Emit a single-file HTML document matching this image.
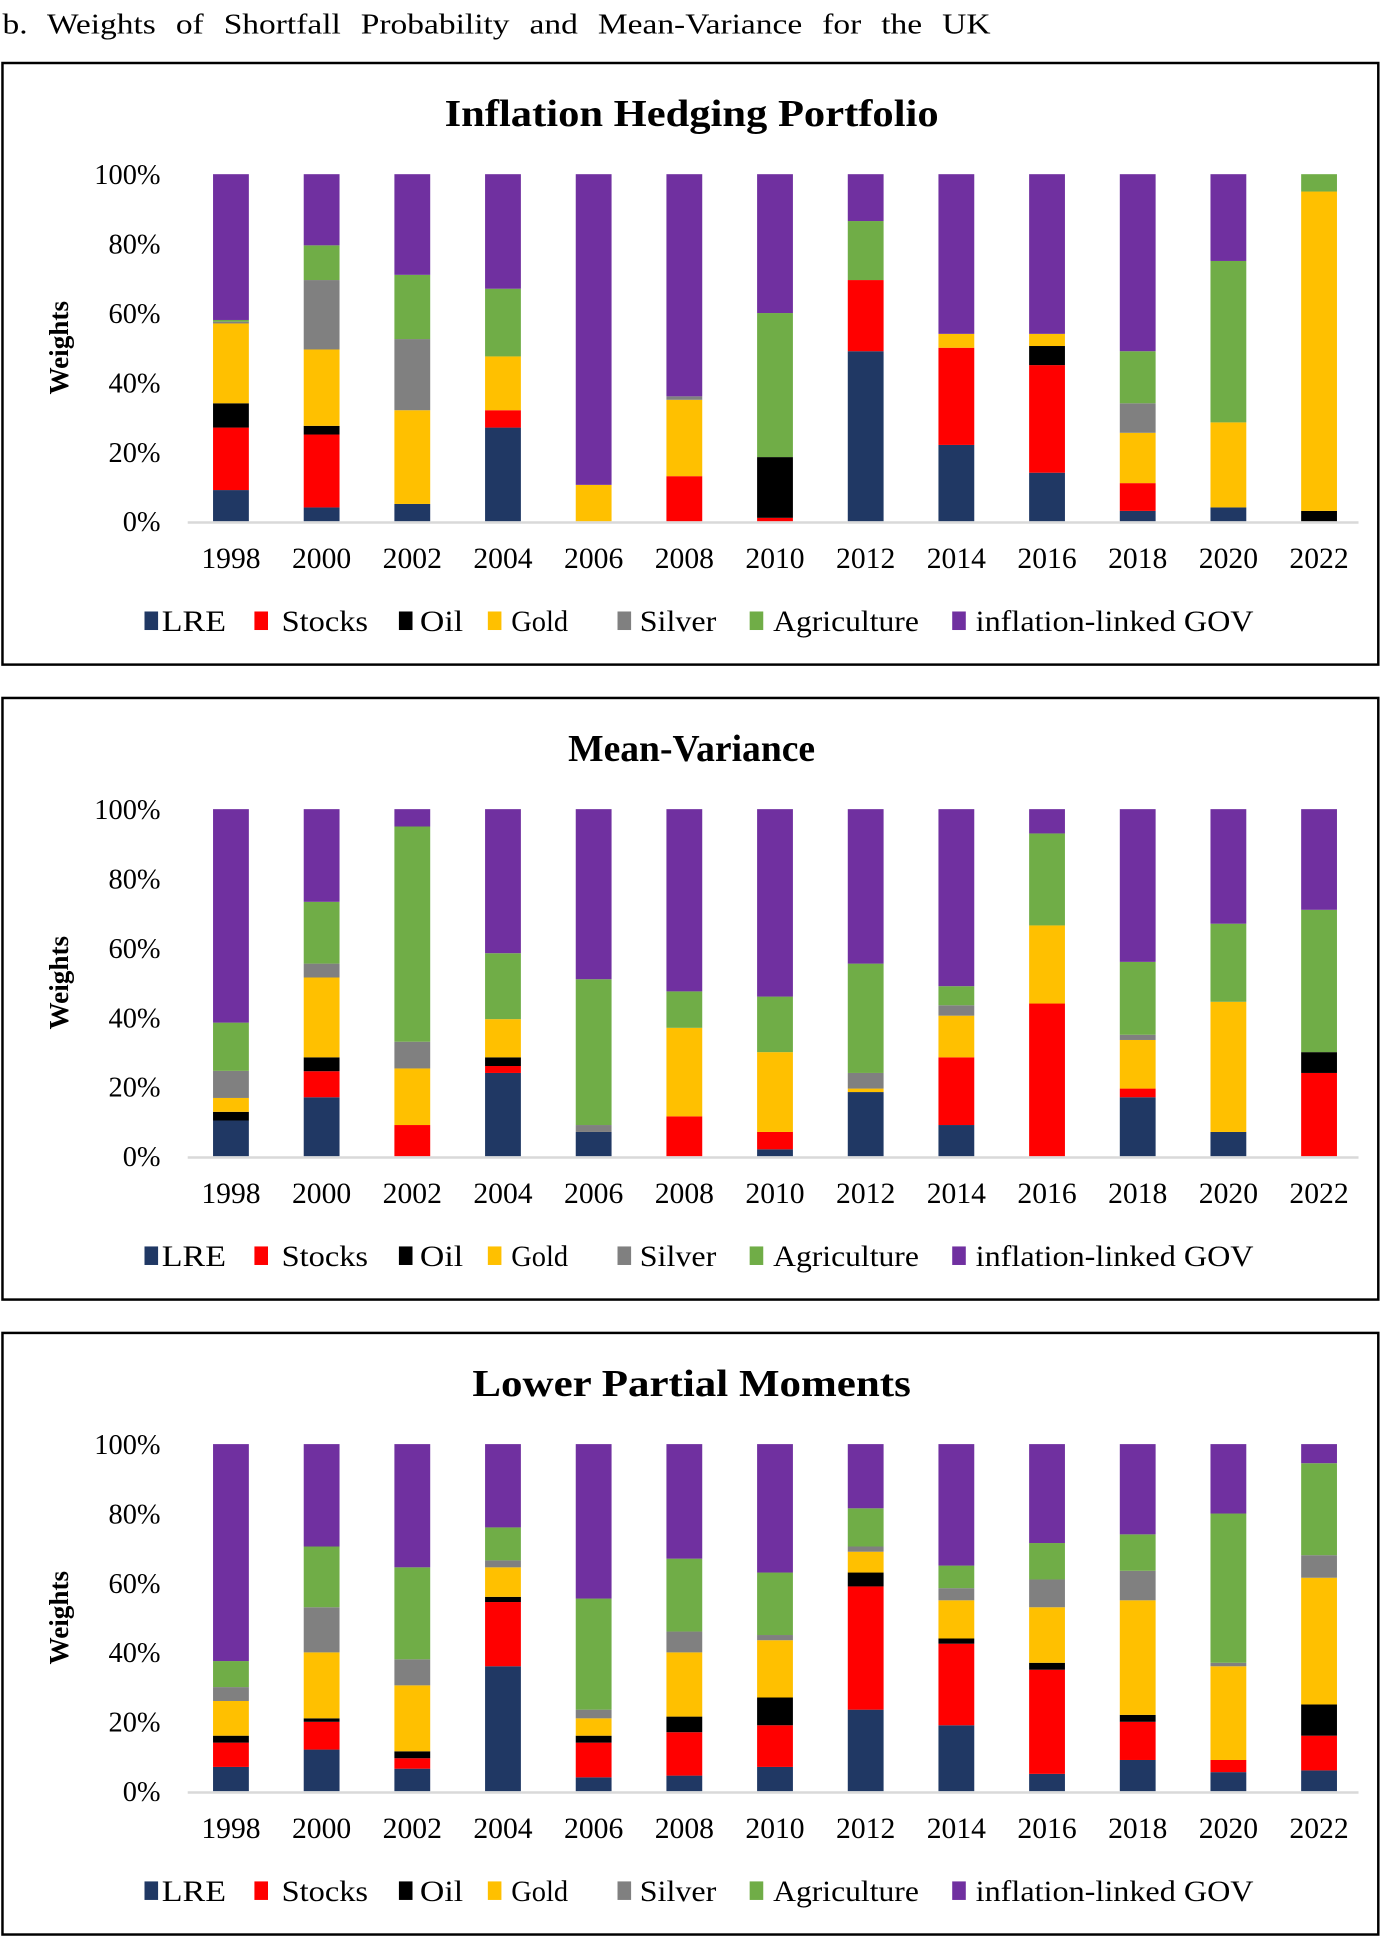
<!DOCTYPE html>
<html><head><meta charset="utf-8"><style>
html,body{margin:0;padding:0;background:#fff}
svg{display:block}
svg text{font-family:"Liberation Serif",serif}
</style></head><body>
<svg id="root" width="1382" height="1937" viewBox="0 0 1119 1568" preserveAspectRatio="none" xmlns="http://www.w3.org/2000/svg">
<text x="2" y="27" font-size="23" textLength="800" lengthAdjust="spacingAndGlyphs" word-spacing="8">b.  Weights of Shortfall Probability and Mean-Variance for the UK</text>
</svg>
<script>
const years = ["1998","2000","2002","2004","2006","2008","2010","2012","2014","2016","2018","2020","2022"];
const seriesNames = ["LRE","Stocks","Oil","Gold","Silver","Agriculture","inflation-linked GOV"];
const yTicks = ["0%","20%","40%","60%","80%","100%"];
const chartTitles = ["Inflation Hedging Portfolio","Mean-Variance","Lower Partial Moments"];

const c1LRE = [9,4,5,27,0,0,0,49,22,14,3,4,0];
const c1Stocks = [18,21,0,5,0,13,1,20.5,28,31,8,0,0];
const c1Oil = [7,2.5,0,0,0,0,17.5,0,0,5.5,0,0,3];
const c1Gold = [23,22,27,15.5,10.5,22,0,0,4,3.5,14.5,24.5,92];
const c1Silver = [0.5,20,20.5,0,0,1,0,0,0,0,8.5,0,0];
const c1Agri = [0.5,10,18.5,19.5,0,0,41.5,17,0,0,15,46.5,5];
const c1Gov = [42,20.5,29,33,89.5,64,40,13.5,46,46,51,25,0];

const c2LRE = [10.3,17,0,24,7,0,2,18.5,9,0,17,7,0];
const c2Stocks = [0,7.5,9,2,0,11.5,5,0,19.5,44,2.5,0,24];
const c2Oil = [2.5,4,0,2.5,0,0,0,0,0,0,0,0,6];
const c2Gold = [4,23,16.3,11,0,25.5,23,1,12,22.5,14,37.5,0];
const c2Silver = [7.8,4,7.7,0,2,0,0,4.5,3,0,1.5,0,0];
const c2Agri = [13.9,17.8,62,19,42,10.5,16,31.5,5.5,26.5,21,22.5,41];
const c2Gov = [61.5,26.7,5,41.5,49,52.5,54,44.5,51,7,44,33,29];

const c3LRE = [7,12,6.5,36,4,4.5,7,23.5,19,5,9,5.5,6];
const c3Stocks = [7,8,3,18.5,10,12.5,12,35.5,23.5,30,11,3.5,10];
const c3Oil = [2,1,2,1.5,2,4.5,8,4,1.5,2,2,0,9];
const c3Gold = [10,19,19,8.5,5,18.5,16.5,6,11,16,33,27,36.5];
const c3Silver = [4,13,7.5,2,2.5,6,1.5,1.5,3.5,8,8.5,1,6.5];
const c3Agri = [7.5,17.5,26.5,9.5,32,21,18,11,6.5,10.5,10.5,43,26.5];
const c3Gov = [62.5,29.5,35.5,24,44.5,33,37,18.5,35,28.5,26,20,5.5];

const chartData = [
  [c1LRE,c1Stocks,c1Oil,c1Gold,c1Silver,c1Agri,c1Gov],
  [c2LRE,c2Stocks,c2Oil,c2Gold,c2Silver,c2Agri,c2Gov],
  [c3LRE,c3Stocks,c3Oil,c3Gold,c3Silver,c3Agri,c3Gov]
];
const colors = ["#203864","#ff0000","#000000","#ffc000","#808080","#70ad47","#7030a0"];
const NS = "http://www.w3.org/2000/svg";
const root = document.getElementById("root");
function mk(tag, attrs, parent){const e=document.createElementNS(NS,tag);for(const k in attrs)e.setAttribute(k,attrs[k]);parent.appendChild(e);return e;}

const legendSq = [117,206,323,395,500,607,771];
const legendTx = [131,228,340,414,518,626,790];
const legendLen = [52,70,35,46,62,118,225];
const titleLen = [400,200,355];
for(let c=0;c<3;c++){
  const off = c*514;
  const g = mk("g",{},root);
  
  
  const box = mk("rect",{x:2,y:51+off,width:1114,height:487,fill:"none",stroke:"#000","stroke-width":2},g);
  
  
  const t = mk("text",{x:560,y:102+off,"text-anchor":"middle","font-size":31,"font-weight":"bold",textLength:titleLen[c],lengthAdjust:"spacingAndGlyphs"},g);
  t.textContent = chartTitles[c];
  
  
  const y0 = 422+off, y100 = 141+off;
  const yScale = v => y0 - (y0-y100)*v/100;
  const xScale = i => 187 + i*73.42;
  yTicks.forEach((lab,i)=>{
    const tt = mk("text",{x:130,y:yScale(i*20)+8,"text-anchor":"end","font-size":23},g);
    tt.textContent = lab;
    
    
  });
  const yt = mk("text",{x:0,y:0,"text-anchor":"middle","font-size":22,"font-weight":"bold",transform:`translate(55,${(y0+y100)/2}) rotate(-90)`},g);
  yt.textContent = "Weights";
  
  
  const data = chartData[c];
  years.forEach((yr,i)=>{
    let cum = 0;
    for(let s=0;s<data.length;s++){
      const v = data[s][i];
      if(v<=0) continue;
      const r = mk("rect",{x:xScale(i)-14.5,y:yScale(cum+v),width:29,height:yScale(cum)-yScale(cum+v),fill:colors[s]},g);
      
      
      cum += v;
    }
    const xl = mk("text",{x:xScale(i),y:460+off,"text-anchor":"middle","font-size":24},g);
    xl.textContent = yr;
    
    
  });
  const ax = mk("line",{x1:152,x2:1100,y1:y0+1,y2:y0+1,stroke:"#d9d9d9","stroke-width":2},g);
  
  
  seriesNames.forEach((n,s)=>{
    const lg = mk("g",{},g);
    
    
    mk("rect",{x:legendSq[s],y:495+off,width:11,height:15,fill:colors[s]},lg);
    const lt = mk("text",{x:legendTx[s],y:511+off,"font-size":24,textLength:legendLen[s],lengthAdjust:"spacingAndGlyphs"},lg);
    lt.textContent = n;
  });
}
</script>
</body></html>
